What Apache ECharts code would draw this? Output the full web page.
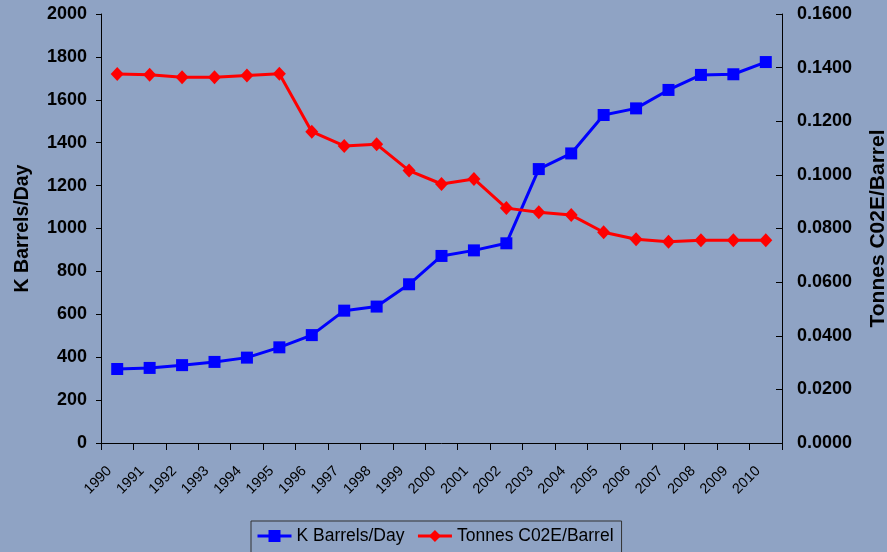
<!DOCTYPE html>
<html>
<head>
<meta charset="utf-8">
<script src="https://cdn.jsdelivr.net/npm/echarts@6/dist/echarts.min.js"></script>
<style>
html,body{margin:0;padding:0;background:#8FA3C4;}
#chart{width:887px;height:552px;}
</style>
</head>
<body>
<div id="chart"></div>
<script>
var years = ['1990','1991','1992','1993','1994','1995','1996','1997','1998','1999','2000','2001','2002','2003','2004','2005','2006','2007','2008','2009','2010'];
var barrelsPerDay = [345, 350, 363, 378, 398, 446, 503, 617, 636, 740, 872, 898, 931, 1277, 1350, 1529, 1560, 1646, 1716, 1719, 1776];
var tonnesPerBarrel = [0.1376, 0.1373, 0.1364, 0.1364, 0.1371, 0.1377, 0.1161, 0.1108, 0.1114, 0.1016, 0.0966, 0.0985, 0.0876, 0.0861, 0.0850, 0.0786, 0.0760, 0.0751, 0.0756, 0.0756, 0.0756];
var leftTicks = {min: 0, max: 2000, interval: 200};
var rightTicks = {min: 0, max: 0.16, interval: 0.02};

var chart = echarts.init(document.getElementById('chart'));
var FONT = 'Liberation Sans, Arial, sans-serif';
chart.setOption({
  backgroundColor: '#8FA3C4',
  animation: false,
  grid: {left: 101, right: 105, top: 14, bottom: 109, containLabel: false, outerBoundsMode: 'none'},
  legend: {
    left: 251, top: 521,
    padding: [6, 8, 10, 5],
    itemGap: 12,
    itemWidth: 34, itemHeight: 15,
    lineStyle: {width: 3},
    borderColor: '#333', borderWidth: 1,
    textStyle: {fontFamily: FONT, fontSize: 17.5, color: '#000'},
    data: ['K Barrels/Day', 'Tonnes C02E/Barrel']
  },
  xAxis: {
    type: 'category',
    data: years,
    boundaryGap: true,
    axisLine: {lineStyle: {color: '#000', width: 1}},
    axisTick: {show: true, length: 7, lineStyle: {color: '#000'}},
    axisLabel: {rotate: 45, interval: 0, margin: 18, padding: [0, 11, 0, 0], color: '#000', fontFamily: FONT, fontSize: 14.5}
  },
  yAxis: [{
    type: 'value',
    min: leftTicks.min, max: leftTicks.max, interval: leftTicks.interval,
    name: 'K Barrels/Day',
    nameLocation: 'middle',
    nameGap: 68,
    nameTextStyle: {fontFamily: FONT, fontSize: 19.5, fontWeight: 'bold', color: '#000'},
    axisLine: {show: true, lineStyle: {color: '#000', width: 1}},
    axisTick: {show: true, length: 5, lineStyle: {color: '#000'}},
    splitLine: {show: false},
    axisLabel: {margin: 14, color: '#000', fontFamily: FONT, fontSize: 18, fontWeight: 'bold',
      formatter: function (v) { return String(v); }}
  }, {
    type: 'value',
    position: 'right',
    min: rightTicks.min, max: rightTicks.max, interval: rightTicks.interval,
    name: 'Tonnes C02E/Barrel',
    nameLocation: 'middle',
    nameGap: 86,
    nameTextStyle: {fontFamily: FONT, fontSize: 21, fontWeight: 'bold', color: '#000'},
    axisLine: {show: true, lineStyle: {color: '#000', width: 1}},
    axisTick: {show: true, inside: true, length: 6, lineStyle: {color: '#000'}},
    splitLine: {show: false},
    axisLabel: {margin: 15, color: '#000', fontFamily: FONT, fontSize: 18, fontWeight: 'bold',
      formatter: function (v) { return v.toFixed(4); }}
  }],
  series: [{
    name: 'K Barrels/Day',
    type: 'line',
    yAxisIndex: 0,
    data: barrelsPerDay,
    symbol: 'rect',
    symbolSize: 12,
    lineStyle: {color: '#0000FF', width: 3},
    itemStyle: {color: '#0000FF'}
  }, {
    name: 'Tonnes C02E/Barrel',
    type: 'line',
    yAxisIndex: 1,
    data: tonnesPerBarrel,
    symbol: 'diamond',
    symbolSize: [13, 14],
    lineStyle: {color: '#FF0000', width: 3},
    itemStyle: {color: '#FF0000'}
  }]
});
</script>
</body>
</html>
